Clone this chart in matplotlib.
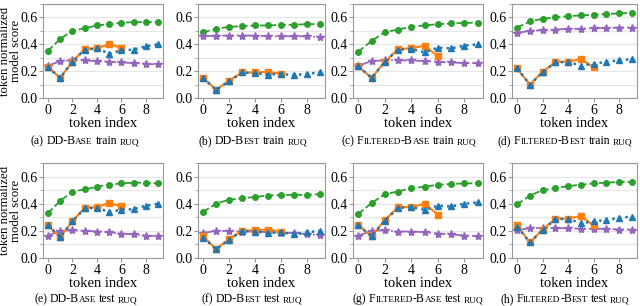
import numpy as np
import matplotlib
matplotlib.use("Agg")
import matplotlib.pyplot as plt
from matplotlib.ticker import MultipleLocator

plt.rcParams['font.family'] = ['Liberation Serif', 'DejaVu Serif']

tokens = np.arange(10)
tokens_short = np.arange(7)

# caption pieces: (text, style)  style: 'n' normal, 'sc' small caps with big initials, 's' all small
captions = [
    [("(a)", 'n'), ("DD-Base", 'sc'), ("train", 'n'), ("ruq", 's')],
    [("(b)", 'n'), ("DD-Best", 'sc'), ("train", 'n'), ("ruq", 's')],
    [("(c)", 'n'), ("Filtered-Base", 'sc'), ("train", 'n'), ("ruq", 's')],
    [("(d)", 'n'), ("Filtered-Best", 'sc'), ("train", 'n'), ("ruq", 's')],
    [("(e)", 'n'), ("DD-Base", 'sc'), ("test", 'n'), ("ruq", 's')],
    [("(f)", 'n'), ("DD-Best", 'sc'), ("test", 'n'), ("ruq", 's')],
    [("(g)", 'n'), ("Filtered-Base", 'sc'), ("test", 'n'), ("ruq", 's')],
    [("(h)", 'n'), ("Filtered-Best", 'sc'), ("test", 'n'), ("ruq", 's')],
]

green = [
    [0.35, 0.44, 0.50, 0.52, 0.54, 0.55, 0.56, 0.565, 0.565, 0.565],
    [0.49, 0.515, 0.53, 0.535, 0.54, 0.54, 0.545, 0.545, 0.55, 0.55],
    [0.345, 0.425, 0.49, 0.51, 0.53, 0.54, 0.55, 0.555, 0.56, 0.56],
    [0.525, 0.57, 0.59, 0.60, 0.61, 0.615, 0.62, 0.625, 0.63, 0.635],
    [0.33, 0.42, 0.49, 0.505, 0.525, 0.54, 0.55, 0.555, 0.555, 0.55],
    [0.34, 0.40, 0.43, 0.44, 0.45, 0.46, 0.465, 0.465, 0.465, 0.47],
    [0.325, 0.405, 0.47, 0.49, 0.515, 0.525, 0.54, 0.545, 0.55, 0.55],
    [0.395, 0.46, 0.50, 0.515, 0.53, 0.54, 0.55, 0.555, 0.56, 0.56],
]
orange = [
    [0.23, 0.15, 0.27, 0.365, 0.37, 0.40, 0.375],
    [0.15, 0.06, 0.13, 0.19, 0.19, 0.195, 0.18],
    [0.235, 0.15, 0.27, 0.365, 0.37, 0.39, 0.31],
    [0.22, 0.10, 0.195, 0.27, 0.27, 0.29, 0.23],
    [0.24, 0.155, 0.27, 0.37, 0.375, 0.405, 0.38],
    [0.16, 0.065, 0.14, 0.20, 0.205, 0.21, 0.195],
    [0.245, 0.16, 0.28, 0.375, 0.375, 0.40, 0.32],
    [0.24, 0.115, 0.21, 0.29, 0.29, 0.31, 0.24],
]
blue = [
    [0.23, 0.15, 0.27, 0.36, 0.37, 0.33, 0.355, 0.36, 0.385, 0.40],
    [0.15, 0.06, 0.125, 0.19, 0.185, 0.175, 0.18, 0.17, 0.18, 0.19],
    [0.235, 0.15, 0.27, 0.36, 0.365, 0.34, 0.375, 0.37, 0.39, 0.40],
    [0.22, 0.10, 0.19, 0.265, 0.27, 0.24, 0.255, 0.27, 0.28, 0.29],
    [0.24, 0.155, 0.27, 0.365, 0.37, 0.34, 0.355, 0.36, 0.385, 0.40],
    [0.15, 0.065, 0.135, 0.20, 0.195, 0.185, 0.19, 0.175, 0.19, 0.20],
    [0.24, 0.16, 0.275, 0.37, 0.375, 0.355, 0.385, 0.38, 0.40, 0.41],
    [0.23, 0.115, 0.205, 0.285, 0.29, 0.255, 0.27, 0.28, 0.295, 0.305],
]
purple = [
    [0.24, 0.275, 0.28, 0.28, 0.275, 0.27, 0.265, 0.26, 0.255, 0.25],
    [0.46, 0.465, 0.465, 0.465, 0.465, 0.46, 0.46, 0.46, 0.46, 0.455],
    [0.24, 0.275, 0.28, 0.28, 0.28, 0.275, 0.27, 0.265, 0.26, 0.26],
    [0.485, 0.50, 0.505, 0.51, 0.515, 0.515, 0.52, 0.52, 0.525, 0.525],
    [0.165, 0.20, 0.205, 0.20, 0.195, 0.19, 0.18, 0.175, 0.165, 0.16],
    [0.185, 0.20, 0.20, 0.195, 0.195, 0.19, 0.185, 0.185, 0.175, 0.17],
    [0.165, 0.20, 0.205, 0.195, 0.195, 0.19, 0.18, 0.175, 0.165, 0.16],
    [0.205, 0.22, 0.22, 0.22, 0.22, 0.215, 0.215, 0.215, 0.21, 0.21],
]

W, H = 640, 306
fig = plt.figure(figsize=(W / 100, H / 100), dpi=100)
renderer = fig.canvas.get_renderer()

# pixel boxes (left, right) per column, (top, bottom) per row
cols = [(43, 163), (198, 325), (353, 483), (512, 637)]
rows = [(4, 98), (163, 258)]
cap_x = [85, 253, 409, 565, 86, 252, 418, 565]
cap_y = [144, 302]
CAP = 8.5
SMALL = 0.78


def caption(pieces, xc, yb):
    # fake small caps: uppercase letters full size, lowercase turned to smaller capitals
    runs = []
    for k, (txt, style) in enumerate(pieces):
        if k > 0:
            runs.append(('gap', CAP))
        if style == 'n':
            runs.append((txt, CAP))
        elif style == 's':
            runs.append((txt.upper(), CAP * SMALL))
        else:
            cur, big = '', None
            for ch in txt:
                b = not ch.islower()
                if big is not None and b != big:
                    runs.append((cur.upper(), CAP if big else CAP * SMALL))
                    cur = ''
                cur += ch
                big = b
            runs.append((cur.upper(), CAP if big else CAP * SMALL))
    arts, widths = [], []
    for txt, s in runs:
        if txt == 'gap':
            arts.append(None)
            widths.append(CAP * 0.3)
            continue
        t = fig.text(0, 1 - yb / H, txt, fontsize=s, va='baseline', ha='left')
        arts.append(t)
        widths.append(t.get_window_extent(renderer).width)
    x = xc - sum(widths) / 2
    for t, w in zip(arts, widths):
        if t is not None:
            t.set_x(x / W)
        x += w


for i in range(8):
    r, c = divmod(i, 4)
    l, rr = cols[c]
    t, b = rows[r]
    ax = fig.add_axes([l / W, 1 - b / H, (rr - l) / W, (b - t) / H])
    ax.plot(tokens, green[i], '--', color='#2ca02c', marker='o', ms=4, lw=1.3)
    ax.plot(tokens, purple[i], '-.', color='#9467bd', marker='*', ms=6, lw=1.3)
    ax.plot(tokens_short, orange[i], '-', color='#ff7f0e', marker='s', ms=5, lw=1.5)
    ax.plot(tokens, blue[i], ':', color='#1f77b4', marker='^', ms=5, lw=1.8)
    ax.set_xlim(-0.4, 9.4)
    ax.set_ylim(0, 0.7)
    ax.xaxis.set_major_locator(MultipleLocator(2))
    ax.yaxis.set_major_locator(MultipleLocator(0.2))
    ax.yaxis.set_minor_locator(MultipleLocator(0.1))
    ax.grid(True, axis='y', which='both', color='#e6e6e6', lw=0.9)
    ax.set_axisbelow(True)
    for s in ax.spines.values():
        s.set_color('#999999')
    ax.tick_params(labelsize=10, length=3, color='#999999', pad=1)
    ax.tick_params(which='minor', length=2, color='#999999')
    ax.set_xlabel('token index', fontsize=10.5, labelpad=0)
    if c == 0:
        ax.set_ylabel('token normalized\nmodel score', fontsize=9.2,
                      linespacing=0.78, va='center', ha='center')
        ax.yaxis.set_label_coords(-(43 - 10.5) / 120, 0.5)
    caption(captions[i], cap_x[i], cap_y[r])

fig.savefig('out.png', dpi=100)
